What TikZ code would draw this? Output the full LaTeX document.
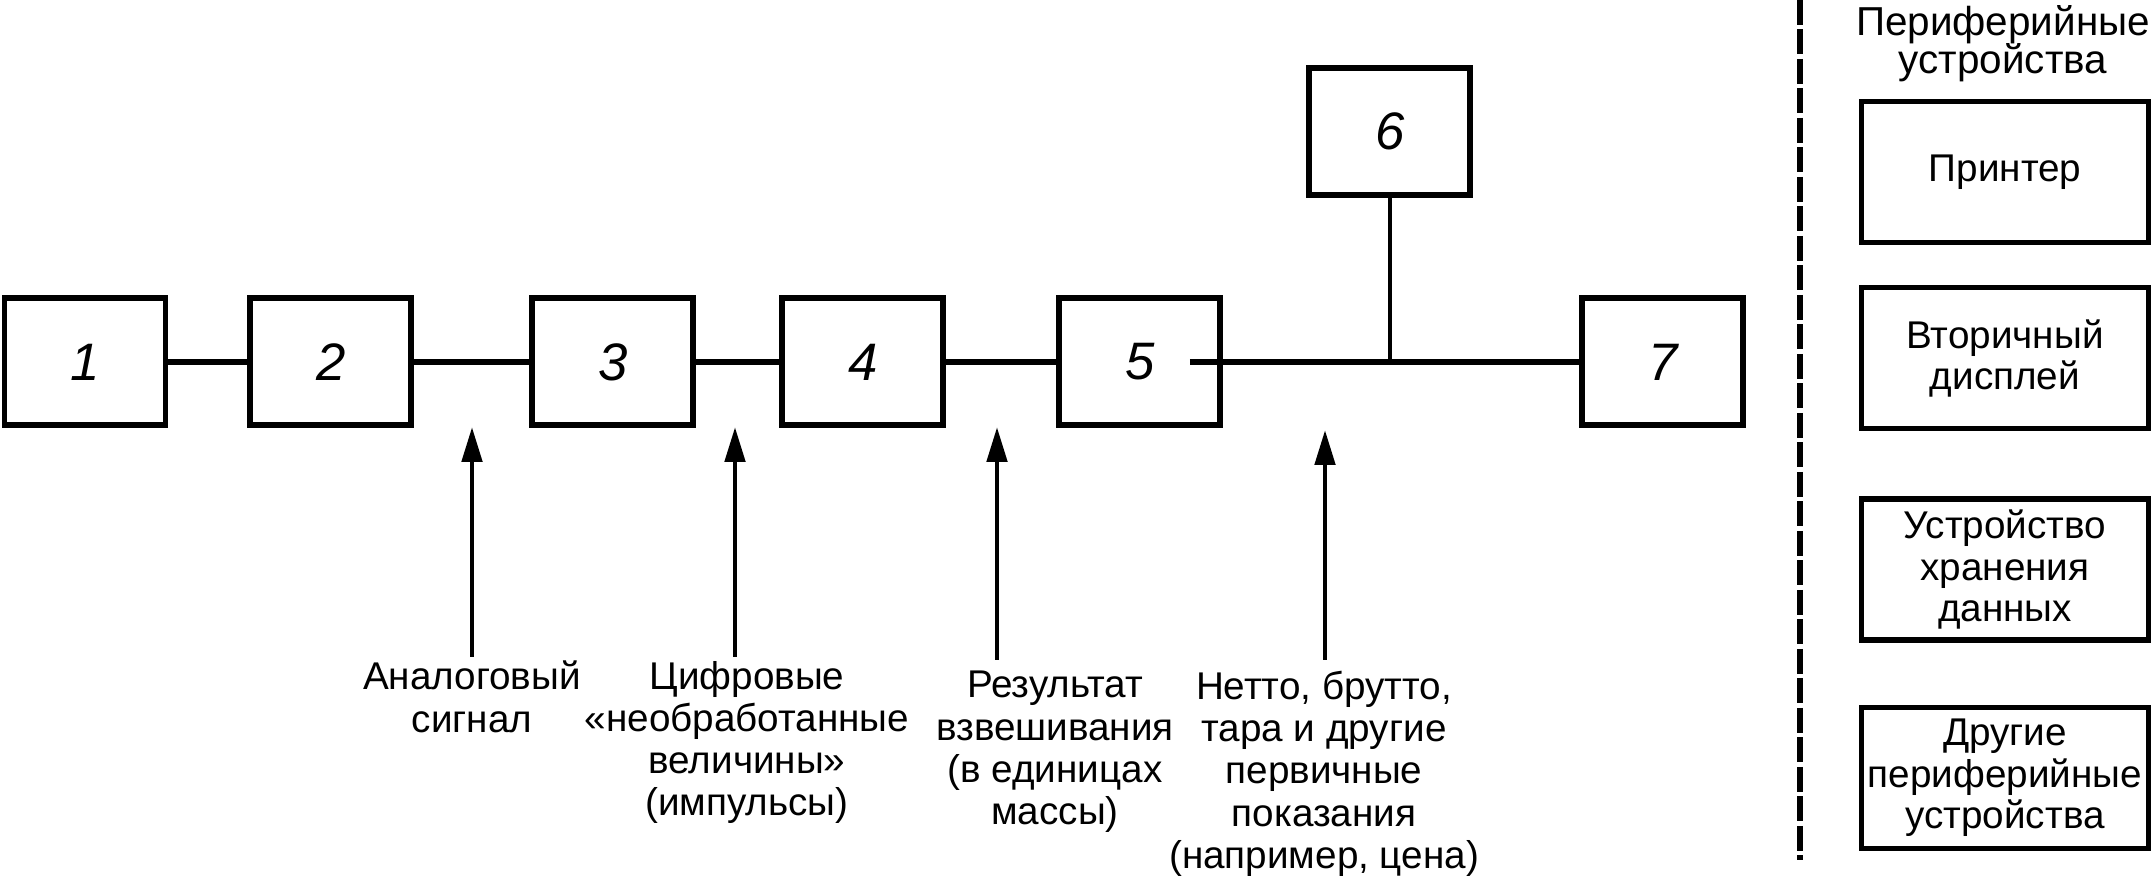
\documentclass[tikz,border=0pt]{standalone}
\usepackage{fontspec}
\setmainfont{Liberation Sans}
\usetikzlibrary{positioning,arrows.meta}

\begin{document}
\begin{tikzpicture}[
    blk/.style={draw, line width=1.7pt, minimum width=1.61cm, minimum height=1.27cm,
      inner sep=0pt, font=\fontsize{15}{18}\selectfont\itshape},
    pbox/.style={draw, line width=1.5pt, minimum width=2.87cm, minimum height=1.41cm,
      inner sep=0pt, align=center, font=\fontsize{11}{11.7}\selectfont},
    lbl/.style={anchor=north, align=center, inner sep=1pt, font=\fontsize{11}{12}\selectfont},
    low/.style={inner ysep=3pt},
    wire/.style={line width=1.7pt},
    arr/.style={line width=1.4pt, -{Triangle[length=0.35cm, width=0.2cm]}}
  ]
    \useasboundingbox (0,0) rectangle (21.56,8.76);

    \node[blk] (b1) at (0.85,5.14) {1};
    \node[blk, right=0.79cm of b1] (b2) {2};
    \node[blk, right=1.15cm of b2] (b3) {3};
    \node[blk, right=0.83cm of b3] (b4) {4};
    \node[blk, right=1.10cm of b4] (b5) {5};
    \node[blk, right=3.56cm of b5] (b7) {7};
    \coordinate (s5) at ([xshift=0.5cm]b5.center);
    \coordinate[right=2cm of s5] (jn);
    \node[blk, above=1.64cm of jn] (b6) {6};

    \draw[wire] (b1) -- (b2) (b2) -- (b3) (b3) -- (b4) (b4) -- (b5) (s5) -- (b7);
    \draw[line width=1.2pt] (b6) -- (jn);

    \coordinate (a1) at (4.72,4.49);
    \coordinate (a2) at (7.35,4.49);
    \coordinate (a3) at (9.97,4.49);
    \coordinate (a4) at (13.25,4.46);
    \node[lbl] (l1) at (4.72,2.19) {Аналоговый\\сигнал};
    \node[lbl] (l2) at (7.47,2.19) {Цифровые\\«необработанные\\величины»\\(импульсы)};
    \node[lbl, low] (l3) at (10.55,2.16) {Результат\\взвешивания\\(в единицах\\массы)};
    \node[lbl, low] (l4) at (13.24,2.16) {Нетто, брутто,\\тара и другие\\первичные\\показания\\(например, цена)};
    \draw[arr] (l1.north -| a1) -- (a1);
    \draw[arr] (l2.north -| a2) -- (a2);
    \draw[arr] (l3.north -| a3) -- (a3);
    \draw[arr] (l4.north -| a4) -- (a4);

    \draw[line width=1.6pt, dash pattern=on 0.25cm off 0.045cm] (18.00,8.76) -- (18.00,0.16);

    \node[anchor=north, align=center, inner sep=1pt, font=\fontsize{11.5}{11}\selectfont]
      (ttl) at (20.03,8.75) {Периферийные\\устройства};
    \node[pbox] (p1) at (20.05,7.04) {Принтер};
    \node[pbox, below=0.40cm of p1] (p2) {Вторичный\\дисплей};
    \node[pbox, below=0.65cm of p2] (p3) {Устройство\\хранения\\данных};
    \node[pbox, below=0.62cm of p3] (p4) {Другие\\периферийные\\устройства};
\end{tikzpicture}
\end{document}
